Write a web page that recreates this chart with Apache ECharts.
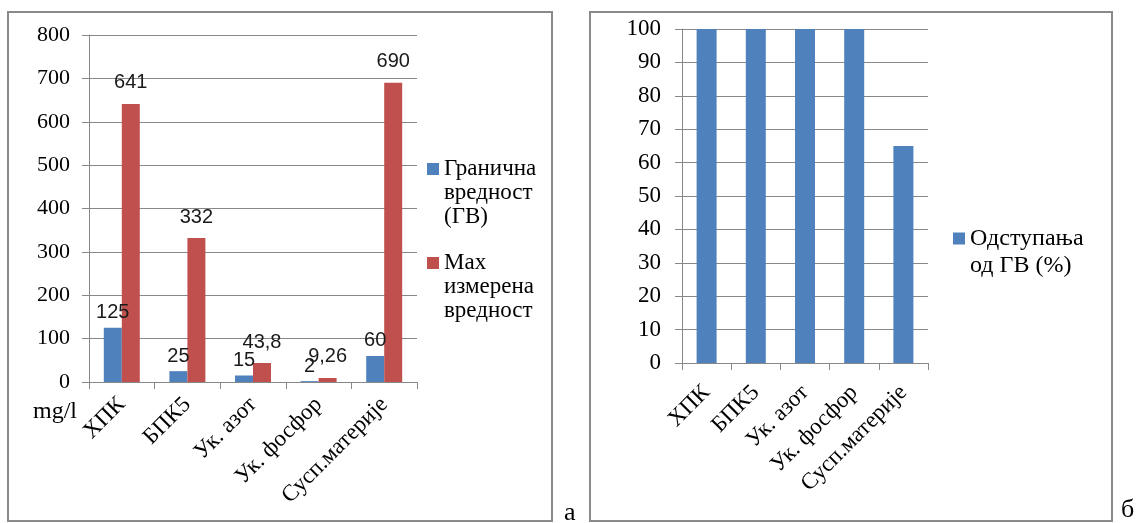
<!DOCTYPE html>
<html>
<head>
<meta charset="utf-8">
<script src="https://cdn.jsdelivr.net/npm/echarts@6/dist/echarts.min.js"></script>
<style>
html,body{margin:0;padding:0;background:#fff;}
#c{width:1136px;height:523px;}
</style>
</head>
<body>
<div id="c"></div>
<script>
const categories = ['ХПК', 'БПК5', 'Ук. азот', 'Ук. фосфор', 'Сусп.материје'];
const limitValues = [125, 25, 15, 2, 60];
const maxValues = [641, 332, 43.8, 9.26, 690];
const deviationValues = [100, 100, 100, 100, 65];
const leftAxis = { min: 0, max: 800, interval: 100 };
const rightAxis = { min: 0, max: 100, interval: 10 };
const nameLimit = 'Гранична\nвредност\n(ГВ)';
const nameMax = 'Max\nизмерена\nвредност';
const nameDev = 'Одступања\nод ГВ (%)';

const SERIF = '"Liberation Serif", "DejaVu Serif", serif';
const SANS = '"Liberation Sans", "Open Sans", sans-serif';
const GRAY = '#888888';
const BLUE = '#4F81BD';
const RED = '#C0504D';

const chart = echarts.init(document.getElementById('c'), null, { renderer: 'canvas' });

function fmt(p) { return String(p.value).replace('.', ','); }

function xAxisCfg(gi, margin) {
  return {
    type: 'category', gridIndex: gi, data: categories,
    axisLine: { lineStyle: { color: GRAY, width: 1 } },
    axisTick: { show: true, alignWithLabel: false, length: 7, lineStyle: { color: GRAY } },
    axisLabel: { rotate: 45, interval: 0, margin: margin, fontFamily: SERIF, fontSize: 23, color: '#000' }
  };
}
function yAxisCfg(gi, ax, margin, fs) {
  return {
    type: 'value', gridIndex: gi, min: ax.min, max: ax.max, interval: ax.interval,
    axisLine: { show: true, lineStyle: { color: GRAY, width: 1 } },
    axisTick: { show: true, length: 7, inside: false, lineStyle: { color: GRAY } },
    splitLine: { show: true, lineStyle: { color: GRAY, width: 1 } },
    axisLabel: { margin: margin, fontFamily: SERIF, fontSize: fs, color: '#000' }
  };
}
function legendCfg(name, left, top, L, n, fs) {
  return {
    data: [{ name: name, icon: 'rect' }],
    left: left, top: top, orient: 'vertical', padding: 0,
    itemWidth: 12, itemHeight: 12, itemGap: 0, itemTextGap: 4, selectedMode: false,
    formatter: function (nm) { return '\n'.repeat(n - 1) + nm; },
    textStyle: { fontFamily: SERIF, fontSize: fs, color: '#000', lineHeight: L }
  };
}

const option = {
  animation: false,
  backgroundColor: '#fff',
  grid: [
    { left: 89, top: 35, width: 328, height: 347, containLabel: false },
    { left: 682, top: 29, width: 246, height: 334, containLabel: false }
  ],
  xAxis: [xAxisCfg(0, 19), xAxisCfg(1, 26)],
  yAxis: [yAxisCfg(0, leftAxis, 19, 22), yAxisCfg(1, rightAxis, 21, 23)],
  legend: [
    legendCfg(nameLimit, 427, 109, 24, 3, 23),
    legendCfg(nameMax, 427, 203, 24, 3, 23),
    legendCfg(nameDev, 953, 198, 27, 2, 24)
  ],
  graphic: [
    { type: 'rect', shape: { x: 8, y: 12, width: 544, height: 509 }, style: { fill: 'none', stroke: '#8a8a8a', lineWidth: 2 }, silent: true },
    { type: 'rect', shape: { x: 590, y: 12, width: 522, height: 509 }, style: { fill: 'none', stroke: '#8a8a8a', lineWidth: 2 }, silent: true },
    { type: 'text', left: 33, top: 400, style: { text: 'mg/l', font: '24px ' + SERIF, fill: '#000' }, silent: true },
    { type: 'text', left: 564, top: 500, style: { text: 'а', font: '26px ' + SERIF, fill: '#000' }, silent: true },
    { type: 'text', left: 1121, top: 497, style: { text: 'б', font: '26px ' + SERIF, fill: '#000' }, silent: true }
  ],
  series: [
    {
      name: nameLimit, type: 'bar', xAxisIndex: 0, yAxisIndex: 0, data: limitValues,
      barWidth: 18, barGap: '0%', itemStyle: { color: BLUE },
      label: { show: true, position: 'top', distance: 5, formatter: fmt, fontFamily: SANS, fontSize: 20, color: '#1a1a1a' }
    },
    {
      name: nameMax, type: 'bar', xAxisIndex: 0, yAxisIndex: 0, data: maxValues,
      barWidth: 18, barGap: '0%', itemStyle: { color: RED },
      label: { show: true, position: 'top', distance: 11, formatter: fmt, fontFamily: SANS, fontSize: 20, color: '#1a1a1a' }
    },
    {
      name: nameDev, type: 'bar', xAxisIndex: 1, yAxisIndex: 1, data: deviationValues,
      barWidth: 20, itemStyle: { color: BLUE }
    }
  ]
};
chart.setOption(option);
</script>
</body>
</html>
